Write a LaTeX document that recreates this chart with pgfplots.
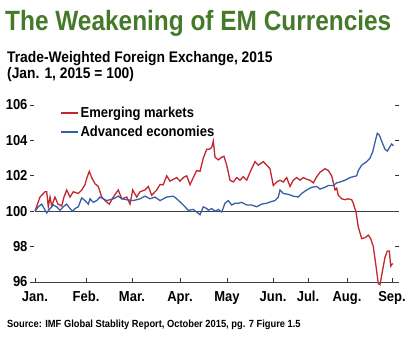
\documentclass[border=0pt]{standalone}
\usepackage{fontspec}
\setmainfont{Liberation Sans}
\newfontfamily\condbold[FakeStretch=0.875]{Liberation Sans Bold}
\newfontfamily\condb[FakeStretch=0.90]{Liberation Sans Bold}
\usepackage{pgfplots}
\pgfplotsset{compat=1.18}
\definecolor{emred}{RGB}{193,39,45}
\definecolor{advblue}{RGB}{55,95,168}
\definecolor{titlegreen}{RGB}{68,122,42}
\begin{document}
\begin{tikzpicture}[x=1bp,y=1bp]
\useasboundingbox (0,0) rectangle (413,337);
\node[anchor=base west,inner sep=0,text=titlegreen,font={\condbold\fontsize{28}{30}\selectfont}] at (5,307) {The Weakening of EM Currencies};
\node[anchor=base west,inner sep=0,font={\condb\fontsize{15.4}{17}\selectfont}] at (7,275) {Trade-Weighted Foreign Exchange, 2015};
\node[anchor=base west,inner sep=0,font={\condb\fontsize{15.4}{17}\selectfont}] at (7,259) {(Jan. 1, 2015 = 100)};
\node[anchor=base west,inner sep=0,font={\condb\fontsize{10.4}{12}\selectfont}] at (7,10) {Source: IMF Global Stablity Report, October 2015, pg. 7 Figure 1.5};
\begin{axis}[
  at={(30bp,55bp)}, anchor=south west,
  scale only axis, width=369bp, height=177bp,
  xmin=30, xmax=399, ymin=96, ymax=106,
  clip=false,
  axis line style={draw=none},
  xtick={35,86,132,180,227,273,308,347,392},
  xticklabels={Jan.,Feb.,Mar.,Apr.,May,Jun.,Jul.,Aug.,Sep.},
  xtick pos=bottom, ytick pos=both,
  ytick={96,98,100,102,104,106},
  tick align=inside,
  major tick length=4bp,
  tick style={black!80, line width=0.6bp},
  /pgf/number format/assume math mode=true,
  ticklabel style={font={\condb\fontsize{14.5}{16}\selectfont}},
  xticklabel style={anchor=base, yshift=-20bp},
  yticklabel style={anchor=east, xshift=1bp},
  legend style={draw=none, fill=none, at={(axis cs:60,106.0)}, anchor=north west,
    font={\condb\fontsize{14.5}{16}\selectfont}, row sep=3bp, inner sep=0pt},
  legend cell align=left,
  legend image post style={line width=1.4bp},
]
\draw[black!75, line width=0.7bp] (axis cs:30,96) -- (axis cs:399,96);
\draw[black!75, line width=0.6bp] (axis cs:35,100) -- (axis cs:399,100);
\addplot[emred, line width=1.3bp] coordinates {
(35,100)(40,100.8)(45,101.1)(46.7,101.1)(48.3,100.25)(50,100.8)(51.7,100.3)(55,100.8)(58,100.4)(61.7,100.3)(64,100.8)(66.7,101.2)(70,100.8)(73.3,101.1)(78.3,101.0)(81.7,101.2)(85,101.5)(86.7,101.85)(89.3,102.25)(91.7,101.9)(95,101.55)(98.3,101.4)(101.7,100.8)(105,100.6)(109.3,100.4)(113.3,100.8)(118.3,101.2)(121.7,100.7)(126.7,100.8)(130,100.4)(132.7,101.2)(136.7,100.8)(140,101.1)(145,101.2)(148.3,101.4)(151.7,100.9)(156.7,101.2)(160,101.5)(163.3,101.5)(166.7,102.0)(170,101.7)(173.3,101.8)(176.7,101.9)(180,101.7)(183.3,101.9)(186.7,102.0)(190,101.5)(193.3,101.9)(196.7,102.3)(200,102.25)(203.3,103.0)(206.7,103.5)(209.3,103.5)(211.7,103.6)(213.3,103.96)(215,103.05)(218.3,102.9)(221.7,103.05)(224,103.1)(226.7,102.6)(230,101.75)(233.3,101.65)(236.7,101.9)(240,101.75)(243.3,101.95)(246.7,101.75)(250,102.2)(255,102.8)(258.3,102.6)(263.3,102.8)(266.7,102.6)(270,102.4)(273.3,101.45)(276.7,101.65)(280,101.75)(283.3,101.65)(286.7,101.9)(290,101.4)(293.3,101.75)(296.7,101.9)(300,101.75)(303.3,101.9)(306.7,101.8)(310,101.75)(313.3,101.6)(316.7,101.95)(320,102.2)(325,102.4)(328.3,102.3)(331.7,102.0)(335,101.2)(336.7,101.3)(338.3,100.9)(341.7,100.7)(345,100.65)(348.3,100.7)(351.7,100.65)(353.3,100.45)(356,99.95)(358.3,99.1)(361.7,98.45)(365,98.5)(368.3,98.65)(370.7,98.45)(373.3,98.0)(376,96.9)(378.3,95.9)(380,95.85)(382.7,96.7)(385,97.4)(387.3,97.75)(389.3,97.75)(390.7,96.9)(392.7,97.05)
};
\addlegendentry{Emerging markets}
\addplot[advblue, line width=1.3bp] coordinates {
(35,100)(38.3,100.25)(41.7,100.4)(46.7,99.9)(50,100.15)(53.3,100.35)(56.7,100.25)(60,100.05)(63.3,100.25)(66.7,100.4)(70,100.15)(72.7,100.0)(75,100.15)(78.3,100.25)(81.7,100.75)(85,100.6)(88.3,100.4)(90,100.7)(93.3,100.5)(96.7,100.6)(100,100.8)(103.3,100.7)(106.7,100.6)(113.3,100.7)(118.3,100.85)(121.7,100.7)(126.7,100.65)(133.3,100.6)(140,100.7)(145,100.85)(150,100.7)(155,100.8)(160,100.6)(166.7,100.8)(173.3,100.85)(176.7,100.7)(183.3,100.35)(188.3,100.05)(193.3,100.1)(196.7,99.95)(200,99.8)(203.3,100.25)(206.7,100.15)(208.3,100.05)(211.7,100.15)(215,100.0)(218.3,100.1)(221.7,99.95)(225,100.45)(228.3,100.6)(231.7,100.35)(235,100.45)(238.3,100.45)(241.7,100.5)(246.7,100.35)(251.7,100.35)(256.7,100.25)(261.7,100.4)(266.7,100.45)(271.7,100.55)(275,100.6)(278.3,100.8)(280,101.2)(283.3,101.0)(288.3,100.95)(293.3,100.85)(298.3,100.8)(301.7,101.0)(306.7,101.2)(311.7,101.35)(316.7,101.4)(320,101.25)(325,101.35)(328.3,101.45)(333.3,101.45)(336.7,101.6)(340,101.65)(345,101.75)(350,101.9)(353.3,101.95)(356.7,102.0)(358.3,102.3)(361.7,102.6)(366.7,102.8)(370,103.0)(372.7,103.35)(375,103.9)(377.3,104.4)(379.3,104.3)(381.7,103.95)(385,103.5)(387.3,103.4)(390,103.65)(391.7,103.8)(393.3,103.7)
};
\addlegendentry{Advanced economies}
\end{axis}
\end{tikzpicture}
\end{document}
